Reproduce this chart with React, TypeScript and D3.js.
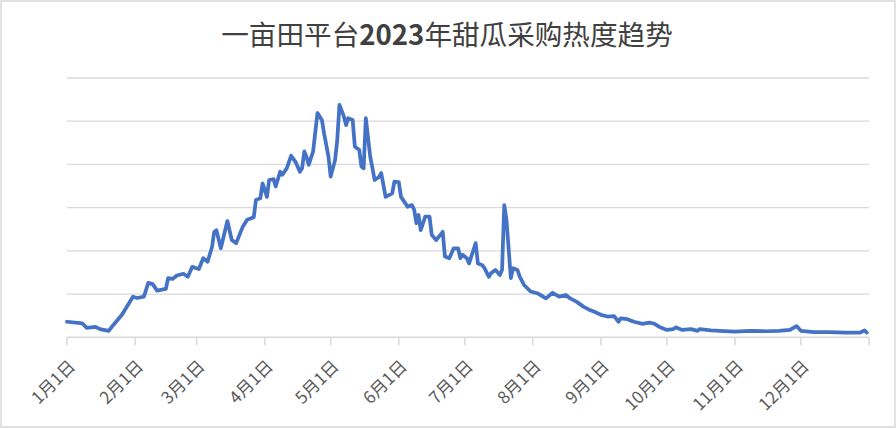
import React from "react";
import * as d3 from "d3";

const TITLE_MAIN_A = "一亩田平台";
const TITLE_YEAR = "2023";
const TITLE_MAIN_B = "年甜瓜采购热度趋势";

// day offset from 2023-01-01
const dayIndex = [
  0, 7, 9, 13, 15, 19, 21, 25, 30, 32, 35, 37, 39, 41, 45, 46, 48, 50, 53, 55, 57, 60, 62, 64, 66, 67, 68, 70, 73, 75,
  77, 80, 82, 85, 86, 88, 89, 91, 92, 94, 95, 97, 98, 100, 102, 104, 106, 107, 108, 109, 110, 112, 114, 116, 117, 119,
  120, 122, 123, 124, 126, 127, 128, 130, 131, 133, 134, 135, 136, 138, 139, 140, 142, 143, 145, 148, 149, 151, 152, 154,
  155, 157, 158, 159, 160, 161, 163, 165, 166, 168, 171, 172, 174, 176, 178, 179, 180, 182, 183, 186, 187, 189, 190, 192,
  193, 195, 197, 198, 199, 200, 202, 203, 205, 206, 208, 211, 214, 218, 221, 224, 227, 229, 232, 235, 238, 240, 243, 246,
  249, 251, 252, 255, 258, 262, 265, 267, 270, 273, 276, 277, 280, 284, 287, 288, 293, 297, 304, 311, 318, 324, 329, 332,
  334, 340, 347, 354, 361, 363, 364,
];

const heatValues = [
  3.6, 3.2, 2.2, 2.4, 1.9, 1.5, 2.8, 5.2, 9.4, 9.1, 9.4, 12.6, 12.3, 10.8, 11.2, 13.7, 13.5, 14.3, 14.7, 14.0, 16.3, 15.8,
  18.3, 17.5, 20.9, 24.4, 24.8, 20.6, 26.9, 22.5, 21.8, 25.6, 27.2, 27.8, 31.8, 32.2, 35.6, 32.5, 36.4, 36.6, 34.9, 38.3,
  37.6, 39.1, 42.0, 40.6, 38.3, 39.1, 43.0, 41.8, 39.9, 43.0, 51.9, 50.3, 47.2, 41.8, 37.2, 41.0, 45.7, 53.8, 51.1, 49.1,
  50.7, 50.3, 44.1, 43.4, 39.5, 39.1, 50.7, 41.8, 39.2, 36.4, 37.1, 38.0, 32.5, 33.3, 36.0, 35.9, 32.5, 31.0, 30.2, 30.6,
  29.5, 26.4, 28.3, 24.8, 27.9, 27.9, 23.7, 22.5, 24.4, 18.7, 18.3, 20.6, 20.6, 18.3, 19.1, 18.3, 17.1, 21.8, 17.1, 16.7,
  16.0, 14.0, 14.8, 15.6, 14.4, 15.6, 30.6, 27.2, 13.7, 16.0, 15.6, 14.1, 12.1, 10.6, 10.2, 9.0, 10.3, 9.4, 9.8, 9.0, 8.2,
  7.1, 6.3, 5.9, 5.2, 4.8, 4.9, 3.6, 4.4, 4.2, 3.6, 3.1, 3.4, 3.2, 2.3, 1.7, 1.9, 2.3, 1.7, 1.9, 1.5, 1.9, 1.6, 1.5, 1.3,
  1.5, 1.4, 1.5, 1.7, 2.6, 1.5, 1.2, 1.2, 1.1, 1.1, 1.6, 1.1,
];

const gridValues = [0, 10, 20, 30, 40, 50, 60];

const W = 896;
const H = 428;

export default function App() {
  const start = new Date(2023, 0, 1);
  const end = new Date(2024, 0, 1);
  const x = d3.scaleTime().domain([start, end]).range([67, 869]);
  const y = d3.scaleLinear().domain([0, 60]).range([337.3, 78]);

  const data = dayIndex.map((d, i) => ({ date: d3.timeDay.offset(start, d), v: heatValues[i] }));
  const line = d3
    .line<{ date: Date; v: number }>()
    .x((d) => x(d.date))
    .y((d) => y(d.v));

  const months = d3.timeMonth.range(start, end);
  const tickDates = [...months, end];
  const axisY = y(0);

  return (
    <div style={{ position: "absolute", left: 0, top: 0 }}>
      <svg width={W} height={H} style={{ display: "block", background: "#fff" }}>
        <rect x={1} y={1} width={W - 2} height={H - 2} fill="#fff" stroke="#d9d9d9" strokeWidth={1.5} />
        <text
          x={447}
          y={45}
          textAnchor="middle"
          fontFamily="'Noto Sans CJK SC', 'Noto Sans', sans-serif"
          fontSize={27.6}
          fill="#404040"
        >
          <tspan>{TITLE_MAIN_A}</tspan>
          <tspan fontWeight="bold">{TITLE_YEAR}</tspan>
          <tspan>{TITLE_MAIN_B}</tspan>
        </text>
        {gridValues
          .filter((g) => g > 0)
          .map((g) => (
            <line key={g} x1={67} x2={869} y1={y(g)} y2={y(g)} stroke="#d9d9d9" strokeWidth={1.3} />
          ))}
        <line x1={67} x2={869} y1={axisY} y2={axisY} stroke="#d9d9d9" strokeWidth={1.5} />
        {tickDates.map((d, i) => (
          <line key={i} x1={x(d)} x2={x(d)} y1={axisY} y2={axisY + 8} stroke="#d9d9d9" strokeWidth={1.5} />
        ))}
        {months.map((d, i) => (
          <text
            key={i}
            transform={`translate(${x(d) + 5},${axisY + 26}) rotate(-45)`}
            textAnchor="end"
            dy="0.35em"
            fontFamily="'Noto Sans CJK SC', sans-serif"
            fontSize={17}
            fill="#595959"
          >
            {`${d.getMonth() + 1}月1日`}
          </text>
        ))}
        <path
          d={line(data) || ""}
          fill="none"
          stroke="#4472C4"
          strokeWidth={3.75}
          strokeLinejoin="round"
          strokeLinecap="round"
        />
      </svg>
    </div>
  );
}
